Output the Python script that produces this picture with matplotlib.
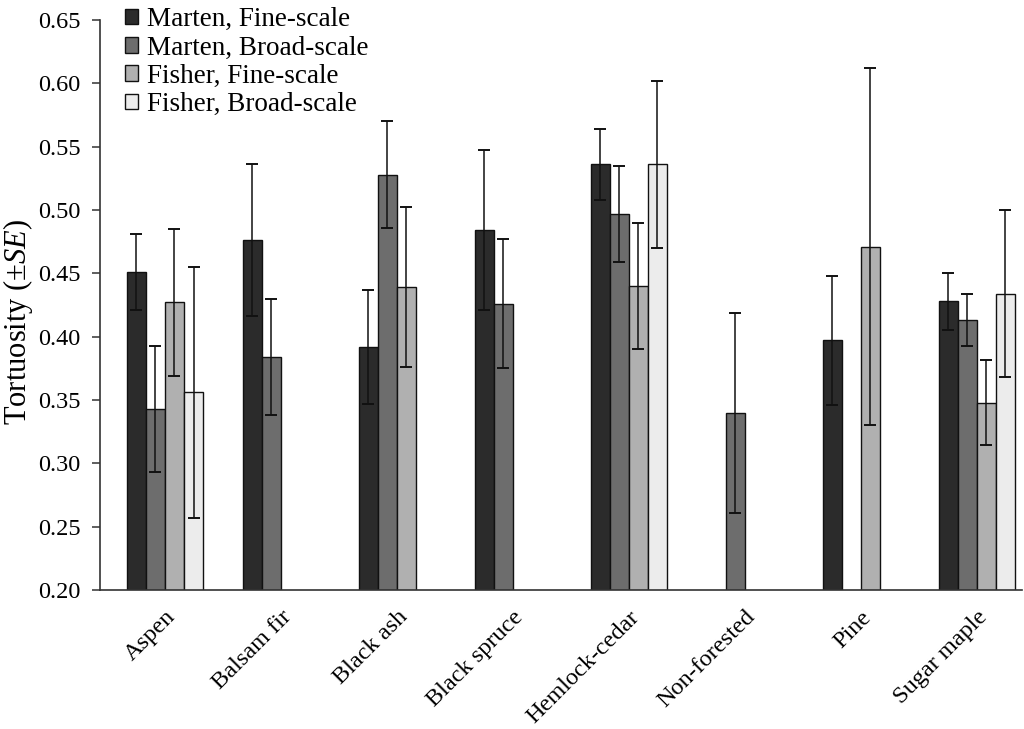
import numpy as np
import matplotlib
matplotlib.use("Agg")
import matplotlib.pyplot as plt

####################
# Datos del gráfico #
####################

habitats = ["Aspen", "Balsam fir", "Black ash", "Black spruce",
            "Hemlock-cedar", "Non-forested", "Pine", "Sugar maple"]
series = ["Marten, Fine-scale", "Marten, Broad-scale",
          "Fisher, Fine-scale", "Fisher, Broad-scale"]

nan = np.nan
marten_fine = [0.451, 0.476, 0.392, 0.484, 0.536, nan, 0.397, 0.428]
marten_fine_se = [0.030, 0.060, 0.045, 0.063, 0.028, nan, 0.051, 0.0225]
marten_broad = [0.343, 0.384, 0.528, 0.426, 0.497, 0.340, nan, 0.413]
marten_broad_se = [0.050, 0.046, 0.042, 0.051, 0.038, 0.079, nan, 0.0205]
fisher_fine = [0.427, nan, 0.439, nan, 0.440, nan, 0.471, 0.348]
fisher_fine_se = [0.058, nan, 0.063, nan, 0.050, nan, 0.141, 0.0335]
fisher_broad = [0.356, nan, nan, nan, 0.536, nan, nan, 0.434]
fisher_broad_se = [0.099, nan, nan, nan, 0.066, nan, nan, 0.066]

valores = [marten_fine, marten_broad, fisher_fine, fisher_broad]
errores = [marten_fine_se, marten_broad_se, fisher_fine_se, fisher_broad_se]
colores = ["#2b2b2b", "#6d6d6d", "#b0b0b0", "#ececec"]

##########
# Figura #
##########

plt.rcParams["font.family"] = ["Liberation Serif", "DejaVu Serif"]
plt.rcParams["mathtext.fontset"] = "custom"
plt.rcParams["mathtext.it"] = "Liberation Serif:italic"
plt.rcParams["mathtext.rm"] = "Liberation Serif"

fig = plt.figure(figsize=(10.24, 7.29), dpi=100)
ax = fig.add_axes([0.0977, 0.1907, 0.9003, 0.7819])

x = np.arange(len(habitats))
ancho = 0.164

for i, (v, e, c, nombre) in enumerate(zip(valores, errores, colores, series)):
    v = np.array(v)
    e = np.array(e)
    pos = x + (i - 1.5) * ancho
    ok = ~np.isnan(v)
    ax.bar(pos[ok], v[ok], width=ancho, color=c, edgecolor="#111111",
           linewidth=1.0, label=nombre, zorder=2)
    ax.errorbar(pos[ok], v[ok], yerr=e[ok], fmt="none", ecolor="#111111",
                elinewidth=1.1, capsize=4, capthick=1.4, zorder=3)

ax.set_ylim(0.20, 0.65)
ax.set_yticks(np.arange(0.20, 0.651, 0.05))
ax.set_yticklabels([f"{t:.2f}" for t in np.arange(0.20, 0.651, 0.05)])
ax.set_xlim(-0.56, 7.39)
ax.set_xticks(x)
ax.set_xticklabels(habitats, rotation=45, ha="right", rotation_mode="anchor")

ax.spines["top"].set_visible(False)
ax.spines["right"].set_visible(False)
for s in ["left", "bottom"]:
    ax.spines[s].set_color("#333333")
    ax.spines[s].set_linewidth(1.2)

ax.tick_params(axis="y", direction="out", length=6, width=1.1,
               labelsize=17.5, pad=8, color="#333333")
ax.tick_params(axis="x", length=0, labelsize=17.5, pad=12)

ax.set_ylabel(r"Tortuosity ($\pm$$\mathit{SE}$)", fontsize=22)
ax.yaxis.set_label_coords(-0.071, 0.47)

ax.legend(loc="upper left", bbox_to_anchor=(0.122, 0.990),
          bbox_transform=fig.transFigure, frameon=False, fontsize=19.5,
          handlelength=0.5, handleheight=0.5, handletextpad=0.33,
          labelspacing=0.12, borderpad=0, borderaxespad=0)

fig.savefig("out.png", dpi=100)
